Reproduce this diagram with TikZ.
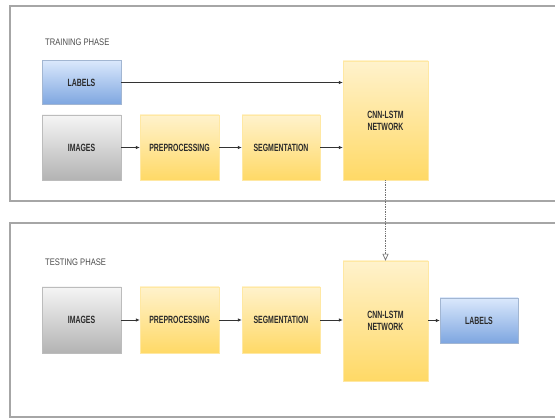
\documentclass[tikz,border=0pt]{standalone}
\usepackage{fontspec}
\newfontfamily\condfont[FakeStretch=0.66]{Liberation Sans}
\newfontfamily\phasefont[FakeStretch=0.8]{Liberation Sans}
\usetikzlibrary{arrows.meta}
\definecolor{bluetop}{HTML}{DAE8FC}
\definecolor{bluebot}{HTML}{7EA6E0}
\definecolor{graytop}{HTML}{F5F5F5}
\definecolor{graybot}{HTML}{B3B3B3}
\definecolor{yeltop}{HTML}{FFF2CC}
\definecolor{yelbot}{HTML}{FFD966}
\definecolor{txt}{HTML}{2B2B2B}
\tikzset{
  boxbase/.style={rectangle, inner sep=0pt, font=\condfont\bfseries\fontsize{10.5}{12}\selectfont, text=txt, align=center},
  bluebox/.style={boxbase, top color=bluetop, bottom color=bluebot, draw=bluebot!80!black!60},
  graybox/.style={boxbase, top color=graytop, bottom color=graybot, draw=graybot!80!black!60},
  yelbox/.style={boxbase, top color=yeltop, bottom color=yelbot, draw=yelbot!60!white},
  panel/.style={draw=gray!70, line width=1.1pt},
  phase/.style={font=\phasefont\fontsize{9.5}{11}\selectfont, text=black!70, anchor=west, inner sep=0pt},
  conn/.style={draw=black!80, line width=0.7pt, -{Latex[length=4pt,width=3.5pt]}},
}
\begin{document}
\begin{tikzpicture}[x=1pt,y=-1pt]
\useasboundingbox (0,0) rectangle (555,419);
\fill[white] (0,0) rectangle (555,419);
% panels
\begin{scope}
\clip (0,0) rectangle (555,419);
\draw[panel] (10,6) rectangle (570,201);
\draw[panel] (10,223) rectangle (570,417);
\end{scope}
\node[phase] (tp) at (45,42) {TRAINING PHASE};
\node[phase] (sp) at (45,262) {TESTING PHASE};
% training
\node[bluebox, minimum width=79pt, minimum height=44pt] (lab1) at (81.5,82.5) {LABELS};
\node[graybox, minimum width=79pt, minimum height=65pt] (img1) at (81.5,147.5) {IMAGES};
\node[yelbox, minimum width=79pt, minimum height=65pt] (pre1) at (179.5,147.5) {PREPROCESSING};
\node[yelbox, minimum width=78pt, minimum height=65pt] (seg1) at (281,147.5) {SEGMENTATION};
\node[yelbox, minimum width=85pt, minimum height=119pt] (cnn1) at (385.5,120.5) {CNN-LSTM\\NETWORK};
% testing
\node[graybox, minimum width=79pt, minimum height=66pt] (img2) at (81.5,320) {IMAGES};
\node[yelbox, minimum width=79pt, minimum height=66pt] (pre2) at (179.5,320) {PREPROCESSING};
\node[yelbox, minimum width=78pt, minimum height=66pt] (seg2) at (281,320) {SEGMENTATION};
\node[yelbox, minimum width=85pt, minimum height=120pt] (cnn2) at (385.5,321) {CNN-LSTM\\NETWORK};
\node[bluebox, minimum width=78pt, minimum height=45pt] (lab2) at (479,320.5) {LABELS};
% connectors
\draw[conn] (lab1.east) -- (lab1.east -| cnn1.west);
\draw[conn] (img1) -- (pre1);
\draw[conn] (pre1) -- (seg1);
\draw[conn] (seg1.east) -- (seg1.east -| cnn1.west);
\draw[conn] (img2) -- (pre2);
\draw[conn] (pre2) -- (seg2);
\draw[conn] (seg2.east) -- (seg2.east -| cnn2.west);
\draw[conn] (cnn2.east |- lab2.west) -- (lab2.west);
\draw[draw=black!55, line width=0.7pt, densely dotted, -{Triangle[open, length=7pt, width=6pt]}] (cnn1.south) -- (cnn2.north);
\end{tikzpicture}
\end{document}
